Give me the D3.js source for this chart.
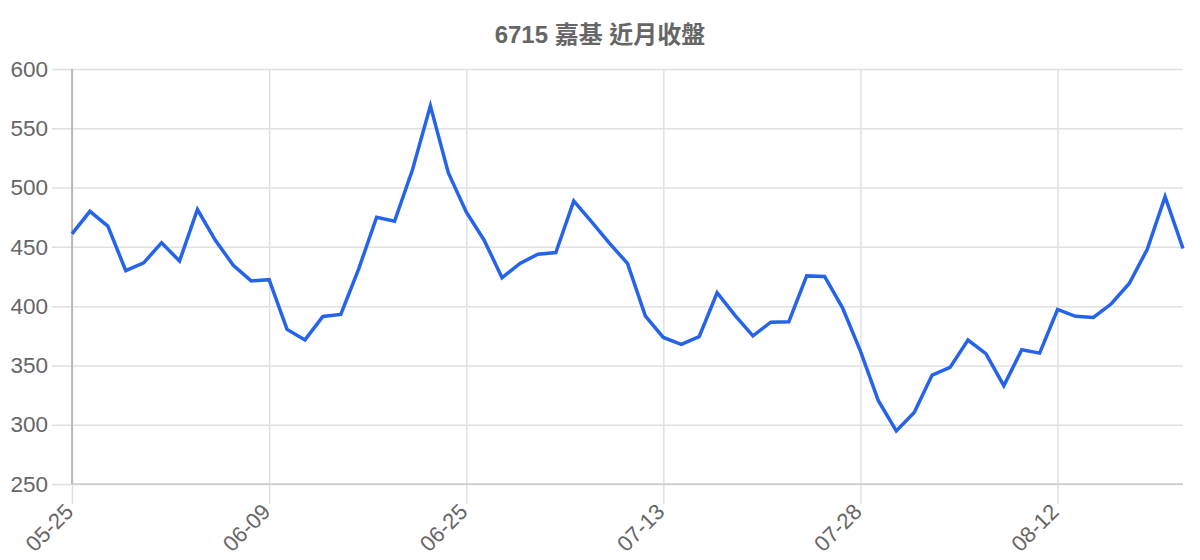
<!DOCTYPE html>
<html>
<head>
<meta charset="utf-8">
<script src="https://cdn.jsdelivr.net/npm/d3@7"></script>
<style>
  html, body { margin: 0; padding: 0; background: #fff; }
  svg { display: block; font-family: "Liberation Sans", Arial, "Noto Sans CJK TC", sans-serif; }
</style>
</head>
<body>
<svg id="chart" width="1200" height="560"></svg>
<script>
const title = "6715 嘉基 近月收盤";
const dates = [
  "05-25","05-26","05-29","05-30","05-31","06-01","06-02","06-05","06-06","06-07","06-08","06-09",
  "06-12","06-13","06-14","06-15","06-16","06-19","06-20","06-21","06-22","06-23","06-25",
  "06-26","06-27","06-28","06-30","07-03","07-04","07-05","07-07","07-10","07-11","07-13",
  "07-14","07-17","07-18","07-19","07-20","07-21","07-24","07-25","07-26","07-27","07-28",
  "07-31","08-01","08-02","08-03","08-04","08-07","08-08","08-09","08-10","08-11","08-12",
  "08-14","08-15","08-16","08-17","08-18","08-21","08-22"
];
const closes = [
  461, 480, 467.5, 430, 436.5, 453.5, 438, 481.5, 455.5, 434.5, 421.3, 422.3,
  380.4, 371.5, 391.3, 393, 431.5, 475, 471.6, 515, 569, 512.6, 479.5,
  455.6, 424, 436, 443.8, 445.2, 488.8, 471, 453, 436, 391.6, 373.6,
  367.8, 374.3, 411.3, 392.2, 375, 386.5, 386.8, 425.5, 425, 398.6, 362,
  320.2, 294.7, 310.4, 341.9, 348.3, 371.4, 359.9, 332.9, 363.2, 360.4, 397.2,
  391.4, 390.5, 402, 419.1, 447.8, 492.4, 448.6
];
const yTicks = [250, 300, 350, 400, 450, 500, 550, 600];
const xTickEvery = 11;

(function () {
const svg = d3.select("#chart");
const mLeft = 72, mRight = 1183, mTop = 69, mBottom = 484;
const tickBelow = 20;

const x = d3.scalePoint().domain(dates).range([mLeft, mRight]);
const y = d3.scaleLinear().domain([250, 600]).range([mBottom, mTop]);

const xTickDates = dates.filter((d, i) => i % xTickEvery === 0);

// horizontal gridlines + y labels
const yAxis = d3.axisLeft(y).tickValues(yTicks).tickSize(mRight - mLeft + 20).tickPadding(4);
const gy = svg.append("g").attr("transform", `translate(${mRight},0)`).call(yAxis);
gy.select(".domain").remove();
gy.selectAll(".tick line").attr("stroke", "#e0e0e0").attr("stroke-width", 1.5);
gy.selectAll(".tick text").attr("fill", "#666").attr("font-size", 22.5);

// vertical gridlines + x labels
const xAxis = d3.axisBottom(x).tickValues(xTickDates).tickSize(-(mBottom - mTop) - tickBelow).tickPadding(0);
const gx = svg.append("g").attr("transform", `translate(0,${mBottom + tickBelow})`).call(xAxis);
gx.select(".domain").remove();
gx.selectAll(".tick line").attr("stroke", "#e0e0e0").attr("stroke-width", 1.5);
gx.selectAll(".tick text")
  .attr("fill", "#666").attr("font-size", 22)
  .attr("text-anchor", "end")
  .attr("dy", null).attr("y", 0)
  .attr("transform", "translate(-2,5) rotate(-45)")
  .attr("dominant-baseline", "middle");

// baseline and y axis line
svg.append("line").attr("x1", mLeft).attr("x2", mRight).attr("y1", y(250)).attr("y2", y(250))
  .attr("stroke", "#cccccc").attr("stroke-width", 1.5);
svg.append("line").attr("x1", mLeft).attr("x2", mLeft).attr("y1", y(600)).attr("y2", y(250))
  .attr("stroke", "#aaaaaa").attr("stroke-width", 1.5);

// line
const line = d3.line().x((d, i) => x(dates[i])).y(d => y(d));
svg.append("path").datum(closes)
  .attr("fill", "none")
  .attr("stroke", "#2563eb")
  .attr("stroke-width", 3.5)
  .attr("stroke-linejoin", "miter")
  .attr("d", line);

// title
svg.append("text").attr("x", 600).attr("y", 43)
  .attr("text-anchor", "middle").attr("font-size", 24).attr("font-weight", "bold")
  .attr("fill", "#666").text(title);
})();
</script>
</body>
</html>
